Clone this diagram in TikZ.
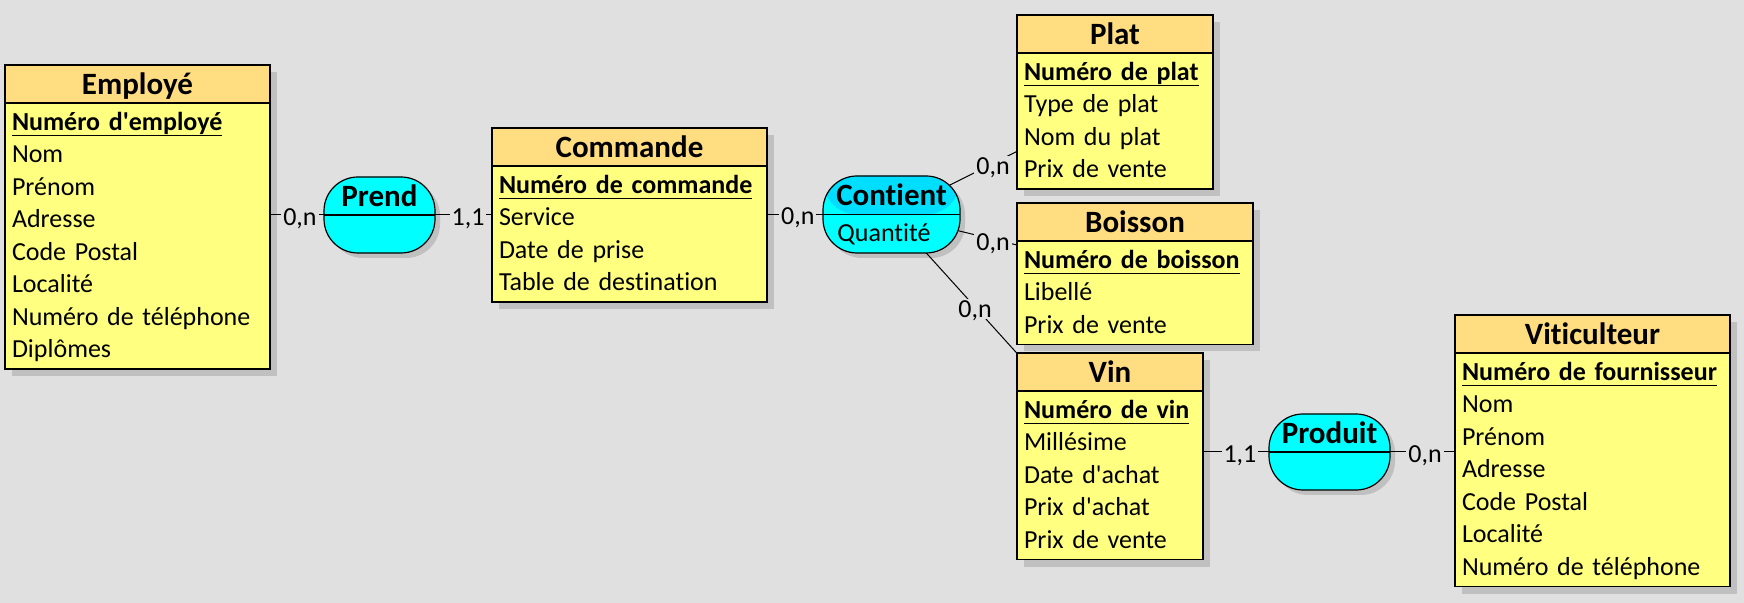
\documentclass[tikz,border=0pt]{standalone}
\usepackage{fontspec}
\setmainfont{Carlito}[Ligatures={TeXOff,NoCommon}]
\usetikzlibrary{fit}
\pgfdeclarelayer{bg}
\pgfdeclarelayer{shadow}
\pgfdeclarelayer{lines}
\pgfsetlayers{bg,shadow,lines,main}
\definecolor{bgc}{HTML}{E0E0E0}
\definecolor{hdrc}{HTML}{FFDD80}
\definecolor{bodyc}{HTML}{FFFF80}
\definecolor{relc}{HTML}{00FFFF}
\definecolor{reltop}{HTML}{00DEFF}
\definecolor{shadowc}{HTML}{C0C0C0}
\newcommand\rs{\rule[-4.05pt]{0pt}{16.25pt}}
\newcommand\keyat[1]{\setbox0\hbox{\bfseries #1}\rlap{\rule[-2.95pt]{\wd0}{0.6pt}}\box0}
\tikzset{
  hdr/.style={draw, fill=hdrc, line width=0.6pt, minimum height=19pt, inner sep=0pt, outer sep=0pt,
    font=\fontsize{15.5}{18}\selectfont\bfseries, text height=10.8pt, text depth=0pt, anchor=north west},
  bodyst/.style={draw, fill=bodyc, line width=0.6pt, inner xsep=3.5pt, inner ysep=1.5pt, outer sep=0pt,
    align=left, font=\fontsize{13}{16.25}\selectfont, anchor=north west},
  entfit/.style={inner sep=0pt, outer sep=0pt},
  rel/.style={draw, fill=relc, line width=0.6pt, rounded corners=17pt, inner sep=0pt, outer sep=0pt,
    path picture={\draw[line width=0.6pt] (path picture bounding box.west) -- (path picture bounding box.east);}},
  reltitle/.style={font=\fontsize{15.5}{18}\selectfont\bfseries, inner sep=0pt, anchor=base},
  relattr/.style={font=\fontsize{13}{16}\selectfont, inner sep=0pt, anchor=base west},
  conn/.style={line width=0.5pt, black},
  card/.style={font=\fontsize{13}{16}\selectfont, fill=bgc, inner xsep=1pt, inner ysep=1pt, text height=8.2pt, text depth=0pt},
}
\begin{document}
\begin{tikzpicture}[x=0.5pt,y=-0.5pt]
\useasboundingbox (0,0) rectangle (1744,603);
\begin{pgfonlayer}{bg}
\fill[bgc] (0,0) rectangle (1744,603);
\end{pgfonlayer}

% Employe
\node[hdr, minimum width=132.5pt] (emph) at (5,65) {Employé};
\node[bodyst, text width=125.5pt] (empb) at (emph.south west) {\rs\keyat{Numéro d'employé}\\\rs Nom\\\rs Prénom\\\rs Adresse\\\rs Code Postal\\\rs Localité\\\rs Numéro de téléphone\\\rs Diplômes};
\node[entfit, fit=(emph)(empb)] (emp) {};

% Commande
\node[hdr, minimum width=137.5pt] (comh) at (492,128) {Commande};
\node[bodyst, text width=130.5pt] (comb) at (comh.south west) {\rs\keyat{Numéro de commande}\\\rs Service\\\rs Date de prise\\\rs Table de destination};
\node[entfit, fit=(comh)(comb)] (com) {};

% Plat
\node[hdr, minimum width=98pt] (plath) at (1017,15) {Plat};
\node[bodyst, text width=91pt] (platb) at (plath.south west) {\rs\keyat{Numéro de plat}\\\rs Type de plat\\\rs Nom du plat\\\rs Prix de vente};
\node[entfit, fit=(plath)(platb)] (plat) {};

% Boisson
\node[hdr, minimum width=118pt] (boih) at (1017,203) {Boisson};
\node[bodyst, text width=111pt] (boib) at (boih.south west) {\rs\keyat{Numéro de boisson}\\\rs Libellé\\\rs Prix de vente};
\node[entfit, fit=(boih)(boib)] (boisson) {};

% Vin
\node[hdr, minimum width=93pt] (vinh) at (1017,353) {Vin};
\node[bodyst, text width=86pt] (vinb) at (vinh.south west) {\rs\keyat{Numéro de vin}\\\rs Millésime\\\rs Date d'achat\\\rs Prix d'achat\\\rs Prix de vente};
\node[entfit, fit=(vinh)(vinb)] (vin) {};

% Viticulteur
\node[hdr, minimum width=137.5pt] (vitih) at (1455,315) {Viticulteur};
\node[bodyst, text width=130.5pt] (vitib) at (vitih.south west) {\rs\keyat{Numéro de fournisseur}\\\rs Nom\\\rs Prénom\\\rs Adresse\\\rs Code Postal\\\rs Localité\\\rs Numéro de téléphone};
\node[entfit, fit=(vitih)(vitib)] (viti) {};

% Relations
\node[rel, minimum width=55.5pt, minimum height=38pt] (prend) at (379.5,215) {};
\node[reltitle] (prendt) at ([yshift=4.4pt]prend.center) {Prend};

\node[rel, minimum width=68.5pt, minimum height=38.5pt,
  path picture={\fill[reltop] (path picture bounding box.north west) rectangle (path picture bounding box.east);
                \draw[line width=0.6pt] (path picture bounding box.west) -- (path picture bounding box.east);}] (contient) at (891.5,214.5) {};
\node[reltitle] (contientt) at ([yshift=4.4pt]contient.center) {Contient};
\node[relattr] (contienta) at ([xshift=7pt,yshift=-13.5pt]contient.west) {Quantité};

\node[rel, minimum width=60.5pt, minimum height=38pt] (produit) at (1329.5,452) {};
\node[reltitle] (produitt) at ([yshift=4.2pt]produit.center) {Produit};

% Shadows
\begin{pgfonlayer}{shadow}
\foreach \e in {emp,com,plat,boisson,vin,viti}{
  \fill[shadowc] ([xshift=3.5pt,yshift=-3.5pt]\e.north west) rectangle ([xshift=3.5pt,yshift=-3.5pt]\e.south east);
}
\foreach \r in {prend,contient,produit}{
  \fill[shadowc, rounded corners=17pt] ([xshift=2.5pt,yshift=-2.5pt]\r.north west) rectangle ([xshift=2.5pt,yshift=-2.5pt]\r.south east);
}
\end{pgfonlayer}

% Connectors
\begin{pgfonlayer}{lines}
\draw[conn] (emp.east |- prend.west) -- node[card, pos=0.555, yshift=-1pt] (c1) {0,n} (prend.west);
\draw[conn] (prend.east) -- node[card, pos=0.58, yshift=-1pt] (c2) {1,1} (prend.east -| com.west);
\draw[conn] (com.east |- contient.west) -- node[card, pos=0.55, yshift=-1pt] (c3) {0,n} (contient.west);
\draw[conn] (contient.center) -- node[card, pos=0.454, yshift=-1.5pt] (c4) {0,n} (plat.center);
\draw[conn] (contient.center) -- node[card, pos=0.417, yshift=-1.75pt] (c5) {0,n} (boisson.center);
\draw[conn] (contient.center) -- node[card, pos=0.382, yshift=-1pt] (c6) {0,n} (vin.center);
\draw[conn] (vin.east |- produit.west) -- node[card, pos=0.56, yshift=-1pt] (c7) {1,1} (produit.west);
\draw[conn] (produit.east) -- node[card, pos=0.54, yshift=-1pt] (c8) {0,n} (produit.east -| viti.west);
\end{pgfonlayer}
\end{tikzpicture}
\end{document}
